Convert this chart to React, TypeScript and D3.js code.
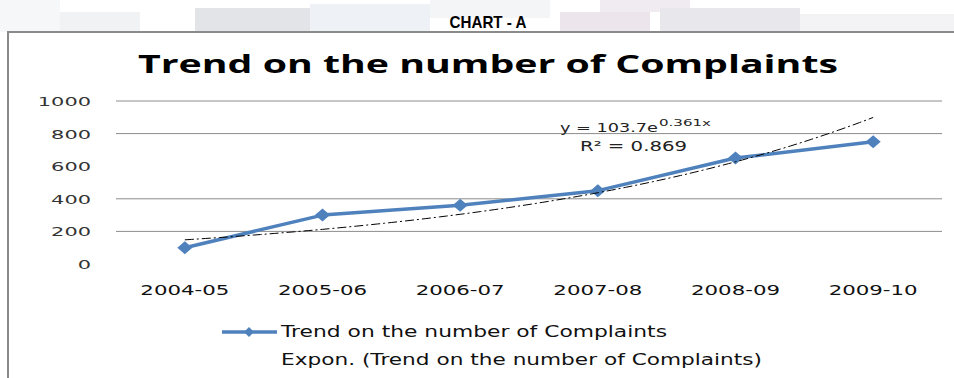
import React from "react";
import * as d3 from "d3";

const categories = ["2004-05", "2005-06", "2006-07", "2007-08", "2008-09", "2009-10"];
const complaints = [100, 300, 360, 450, 650, 750];
const yTicks = [0, 200, 400, 600, 800, 1000];
const gridTicks = [200, 400, 800, 1000];
const seriesName = "Trend on the number of Complaints";
const trendName = "Expon. (Trend on the number of Complaints)";
const equationMain = "y = 103.7e";
const equationExp = "0.361x";
const rSquared = "R² = 0.869";

const W = 954;
const H = 378;

export default function App() {
  const x = d3.scaleBand().domain(categories).range([116, 942]);
  const cx = (c: string) => (x(c) as number) + x.bandwidth() / 2;
  const y = d3.scaleLinear().domain([0, 1000]).range([264, 101]);

  // exponential least-squares fit on the data (x = 1..n)
  const n = complaints.length;
  const xs = complaints.map((_, i) => i + 1);
  const ls = complaints.map((v) => Math.log(v));
  const mx = d3.mean(xs) as number;
  const my = d3.mean(ls) as number;
  const b = d3.sum(xs.map((xi, i) => (xi - mx) * (ls[i] - my))) / d3.sum(xs.map((xi) => (xi - mx) ** 2));
  const a = Math.exp(my - b * mx);
  const trendPts: [number, number][] = d3.range(1, n + 0.001, 0.05).map((t) => {
    const px = cx(categories[0]) + (t - 1) * x.step();
    return [px, y(a * Math.exp(b * t))];
  });
  const trendLine = d3.line()(trendPts) as string;
  const dataLine = d3.line<number>().x((_, i) => cx(categories[i])).y((d) => y(d))(complaints) as string;

  const diamond = (px: number, py: number, r = 7.5, ry = 6.5) =>
    `M${px},${py - ry}L${px + r},${py}L${px},${py + ry}L${px - r},${py}Z`;

  const bgBlocks: [number, number, number, number, string][] = [
    [0, 0, 60, 32, "#f5f7f9"],
    [60, 12, 80, 20, "#f1f2f4"],
    [195, 8, 120, 24, "#e3e4e8"],
    [310, 4, 120, 28, "#eef2f6"],
    [430, 0, 120, 18, "#f3f5f7"],
    [560, 12, 90, 20, "#ece6ec"],
    [600, 0, 90, 12, "#f0ebf0"],
    [660, 8, 140, 24, "#e8e8ec"],
    [800, 14, 154, 18, "#f3f2f5"],
  ];

  return (
    <svg
      width={W}
      height={H}
      style={{ position: "absolute", left: 0, top: 0, background: "#fff" }}
      fontFamily="'DejaVu Sans', sans-serif"
    >
      <rect x={0} y={0} width={W} height={H} fill="#fff" />
      {bgBlocks.map(([bx, by, bw, bh, c], i) => (
        <rect key={i} x={bx} y={by} width={bw} height={bh} fill={c} />
      ))}
      <text
        x={488}
        y={28}
        textAnchor="middle"
        fontFamily="'Liberation Sans Narrow', 'Liberation Sans', sans-serif"
        fontWeight="bold"
        fontSize={17}
        fill="#000"
        textLength={77}
        lengthAdjust="spacingAndGlyphs"
      >
        CHART - A
      </text>
      {/* chart area */}
      <rect x={8} y={32} width={W} height={H} fill="#fff" stroke="#8a8a8a" strokeWidth={2} />
      <text
        x={488}
        y={73}
        textAnchor="middle"
        fontFamily="'Open Sans', 'Liberation Sans', sans-serif"
        fontWeight="bold"
        fontSize={25}
        fill="#000"
        textLength={700}
        lengthAdjust="spacingAndGlyphs"
      >
        Trend on the number of Complaints
      </text>
      {/* gridlines */}
      {gridTicks.map((t) => (
        <line key={t} x1={116} x2={942} y1={y(t)} y2={y(t)} stroke="#8c8c8c" strokeWidth={1} />
      ))}
      {/* y tick labels */}
      {yTicks.map((t) => (
        <text
          key={t}
          x={91}
          y={y(t) + 5}
          textAnchor="end"
          fontSize={13}
          fill="#333"
          textLength={String(t).length * 13.3}
          lengthAdjust="spacingAndGlyphs"
        >
          {t}
        </text>
      ))}
      {/* x labels */}
      {categories.map((c) => (
        <text
          key={c}
          x={cx(c)}
          y={295}
          textAnchor="middle"
          fontSize={14}
          fill="#111"
          textLength={89}
          lengthAdjust="spacingAndGlyphs"
        >
          {c}
        </text>
      ))}
      {/* data line */}
      <path d={dataLine} fill="none" stroke="#4f81bd" strokeWidth={3.5} strokeLinejoin="round" />
      {complaints.map((v, i) => (
        <path key={i} d={diamond(cx(categories[i]), y(v))} fill="#4f81bd" />
      ))}
      {/* trendline */}
      <path d={trendLine} fill="none" stroke="#000" strokeWidth={1} strokeDasharray="9,3,2,3" />
      {/* equation */}
      <text x={560} y={132} fontSize={12} fill="#222" textLength={98} lengthAdjust="spacingAndGlyphs">
        {equationMain}
      </text>
      <text x={659} y={126} fontSize={9} fill="#222" textLength={52} lengthAdjust="spacingAndGlyphs">
        {equationExp}
      </text>
      <text x={580} y={151} fontSize={14} fill="#222" textLength={107} lengthAdjust="spacingAndGlyphs">
        {rSquared}
      </text>
      {/* legend */}
      <line x1={222} x2={277} y1={332} y2={332} stroke="#4f81bd" strokeWidth={3.5} />
      <path d={diamond(249, 332, 5, 5)} fill="#4f81bd" />
      <text x={281} y={337} fontSize={15} fill="#111" textLength={386} lengthAdjust="spacingAndGlyphs">
        {seriesName}
      </text>
      <text x={281} y={365} fontSize={15} fill="#111" textLength={481} lengthAdjust="spacingAndGlyphs">
        {trendName}
      </text>
    </svg>
  );
}
